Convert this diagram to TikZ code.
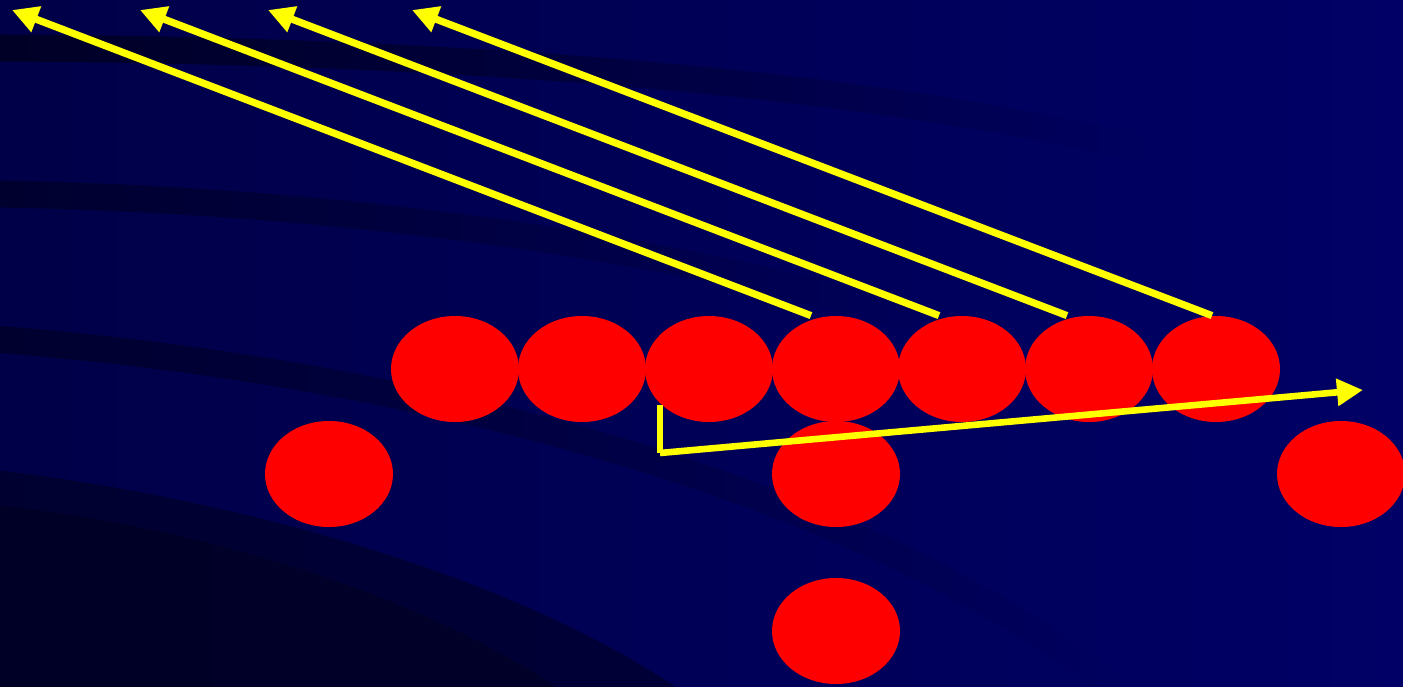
\documentclass[tikz,border=0pt]{standalone}
\usetikzlibrary{shapes.geometric,arrows.meta,calc,fadings}
\definecolor{navyL}{RGB}{0,0,72}
\definecolor{navyR}{RGB}{0,0,102}
\definecolor{bandc}{RGB}{0,0,30}
\definecolor{play}{RGB}{255,0,0}
\definecolor{route}{RGB}{255,255,0}
\tikzfading[name=bandfade, left color=transparent!0, middle color=transparent!15, right color=transparent!100]
\tikzset{
  player/.style={ellipse, fill=play, draw=none, minimum width=64pt, minimum height=53pt, inner sep=0pt},
  band/.style={draw=bandc, line width=13.5pt, path fading=bandfade},
  routeline/.style={draw=route, line width=3.6pt, -{Triangle[length=13pt,width=13pt]}},
}
\begin{document}
\begin{tikzpicture}[x=0.5pt,y=-0.5pt]
  % field background
  \useasboundingbox (0,0) rectangle (1403,686);
  \shade[left color=navyL, right color=navyR] (0,0) rectangle (1403,686);
  % dark curved bands
  \begin{scope}
    \clip (0,0) rectangle (1403,686);
    \draw[band, opacity=0.8] (-5,48) .. controls (450,50) and (850,80) .. (1150,150);
    \draw[band, opacity=0.6] (-5,194) .. controls (350,200) and (700,250) .. (950,330);
    \draw[band, opacity=0.6] (-5,339) .. controls (400,370) and (850,480) .. (1120,690);
    \fill[bandc, opacity=0.55] (-5,470) .. controls (250,500) and (520,580) .. (680,690) -- (-5,690) -- cycle;
    \fill[bandc, opacity=0.5] (-5,505) .. controls (220,530) and (430,600) .. (560,690) -- (-5,690) -- cycle;
  \end{scope}

  % players
  \node[player] (e1) at (455,369) {};
  \node[player] (e2) at (582,369) {};
  \node[player] (e3) at (709,369) {};
  \node[player] (e4) at (836,369) {};
  \node[player] (e5) at (962,369) {};
  \node[player] (e6) at (1089,369) {};
  \node[player] (e7) at (1216,369) {};
  \node[player] (w1) at (329,474) {};
  \node[player] (q)  at (836,474) {};
  \node[player] (w2) at (1341,474) {};
  \node[player] (b)  at (836,631) {};

  % route end points
  \coordinate (t1) at (12,10);
  \coordinate (t2) at (140,10);
  \coordinate (t3) at (268,10);
  \coordinate (t4) at (412,10);
  \coordinate (k0) at (660,405);
  \coordinate (k1) at (660,453);
  \coordinate (k2) at (1363,390);

  % deep routes
  \draw[routeline] ($(e4.north)+(-25,0)$) -- (t1);
  \draw[routeline] ($(e5.north)+(-23,0)$) -- (t2);
  \draw[routeline] ($(e6.north)+(-22,0)$) -- (t3);
  \draw[routeline] ($(e7.north)+(-4,0)$) -- (t4);

  % short route
  \draw[draw=route, line width=2.8pt] (k0) -- (k1);
  \draw[routeline, line width=3.3pt] (k1) -- (k2);
\end{tikzpicture}
\end{document}
